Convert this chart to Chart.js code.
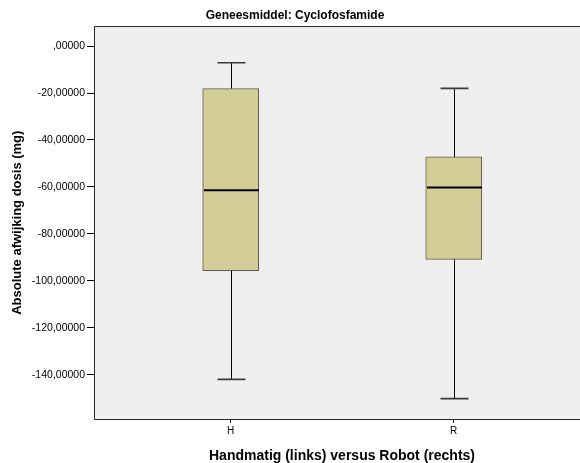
<!DOCTYPE html>
<html>
<head>
<meta charset="utf-8">
<script src="https://cdn.jsdelivr.net/npm/chart.js@4/dist/chart.umd.min.js"></script>
<style>
  html, body { margin: 0; padding: 0; background: #ffffff; overflow: hidden; }
  #wrap { width: 590px; height: 463px; }
</style>
</head>
<body>
<div id="wrap"><canvas id="c" width="590" height="463"></canvas></div>
<script>
// Box plot summary per group: H = handmatig, R = robot
const categories  = ['H', 'R'];
const whiskerLow  = [-142.0, -150.2];
const quartile1   = [-95.7, -90.9];
const medians     = [-61.4, -60.3];
const quartile3   = [-18.1, -47.2];
const whiskerHigh = [-7.1, -18.0];
const yTicks      = [0, -20, -40, -60, -80, -100, -120, -140];

const FONT = "'Liberation Sans', Arial, sans-serif";

function formatTick(v) {
  if (v === 0) return ',00000';
  return v.toFixed(5).replace('.', ',');
}

// Plot background and frame (top, left and bottom edges)
const frame = {
  id: 'frame',
  beforeDatasetsDraw(chart) {
    const { ctx, chartArea: a } = chart;
    ctx.save();
    ctx.fillStyle = '#efefef';
    ctx.fillRect(a.left, a.top, a.right - a.left, a.bottom - a.top);
    ctx.restore();
  },
  afterDraw(chart) {
    const { ctx, chartArea: a } = chart;
    const l = Math.round(a.left) + 0.5, t = Math.round(a.top) + 0.5, b = Math.round(a.bottom) + 0.5;
    ctx.save();
    ctx.strokeStyle = '#2a2a2a';
    ctx.lineWidth = 1;
    ctx.beginPath();
    ctx.moveTo(a.right, t); ctx.lineTo(l, t); ctx.lineTo(l, b); ctx.lineTo(a.right, b);
    ctx.stroke();
    ctx.restore();
  }
};

// Whiskers, caps and median lines, placed through the chart scales
const boxParts = {
  id: 'boxParts',
  afterDatasetsDraw(chart) {
    const { ctx } = chart;
    const xs = chart.scales.x, ys = chart.scales.y;
    const half = 28, cap = 14;
    ctx.save();
    categories.forEach((c, i) => {
      const x = Math.round(xs.getPixelForValue(i)) + 0.5;
      const yLo = ys.getPixelForValue(whiskerLow[i]);
      const yQ1 = ys.getPixelForValue(quartile1[i]);
      const yMed = ys.getPixelForValue(medians[i]);
      const yQ3 = ys.getPixelForValue(quartile3[i]);
      const yHi = ys.getPixelForValue(whiskerHigh[i]);
      ctx.strokeStyle = '#000000';
      ctx.lineWidth = 1;
      ctx.beginPath();
      ctx.moveTo(x, yHi); ctx.lineTo(x, yQ3);
      ctx.moveTo(x, yQ1); ctx.lineTo(x, yLo);
      ctx.stroke();
      ctx.strokeStyle = '#3a3a3a';
      ctx.lineWidth = 1.6;
      ctx.beginPath();
      ctx.moveTo(x - cap, yHi); ctx.lineTo(x + cap, yHi);
      ctx.moveTo(x - cap, yLo); ctx.lineTo(x + cap, yLo);
      ctx.stroke();
      ctx.strokeStyle = '#000000';
      ctx.lineWidth = 2;
      ctx.beginPath();
      ctx.moveTo(x - half + 0.5, yMed); ctx.lineTo(x + half - 0.5, yMed);
      ctx.stroke();
    });
    ctx.restore();
  }
};

new Chart(document.getElementById('c'), {
  type: 'bar',
  data: {
    datasets: [{
      data: categories.map((c, i) => ({ x: i, y: [quartile1[i], quartile3[i]] })),
      backgroundColor: '#d3ce97',
      borderColor: '#5e5c50',
      borderWidth: 1,
      borderSkipped: false,
      barThickness: 56
    }]
  },
  options: {
    responsive: false,
    animation: false,
    layout: { padding: 0 },
    plugins: {
      legend: { display: false },
      tooltip: { enabled: false },
      title: {
        display: true,
        text: 'Geneesmiddel: Cyclofosfamide',
        color: '#000000',
        font: { family: FONT, size: 12, weight: 'bold' },
        padding: { top: 8, bottom: 4 }
      }
    },
    scales: {
      x: {
        type: 'linear',
        offset: false,
        min: -0.613,
        max: 1.611,
        afterBuildTicks(scale) { scale.ticks = categories.map((c, i) => ({ value: i })); },
        afterFit(scale) { scale.height = 44; },
        ticks: {
          callback: (v) => categories[v],
          color: '#000000',
          font: { family: FONT, size: 10 },
          padding: 2,
          maxRotation: 0
        },
        grid: { display: true, offset: false, drawOnChartArea: false, drawTicks: true, tickLength: 4, color: '#000000' },
        border: { display: false },
        title: {
          display: true,
          text: 'Handmatig (links) versus Robot (rechts)',
          color: '#000000',
          font: { family: FONT, size: 14, weight: 'bold', lineHeight: 1.0 },
          padding: { top: 0, bottom: 0 }
        }
      },
      y: {
        type: 'linear',
        min: -158.9,
        max: 8.4,
        afterBuildTicks(scale) { scale.ticks = yTicks.map(v => ({ value: v })); },
        afterFit(scale) { scale.width = 94; },
        ticks: {
          callback: (v) => formatTick(v),
          color: '#000000',
          font: { family: FONT, size: 10.5 },
          padding: 2
        },
        grid: { display: true, drawOnChartArea: false, drawTicks: true, tickLength: 7, color: '#000000' },
        border: { display: false },
        title: {
          display: true,
          text: 'Absolute afwijking dosis (mg)',
          color: '#000000',
          font: { family: FONT, size: 13, weight: 'bold' },
          padding: { top: 10, bottom: 0 }
        }
      }
    }
  },
  plugins: [frame, boxParts]
});
</script>
</body>
</html>
